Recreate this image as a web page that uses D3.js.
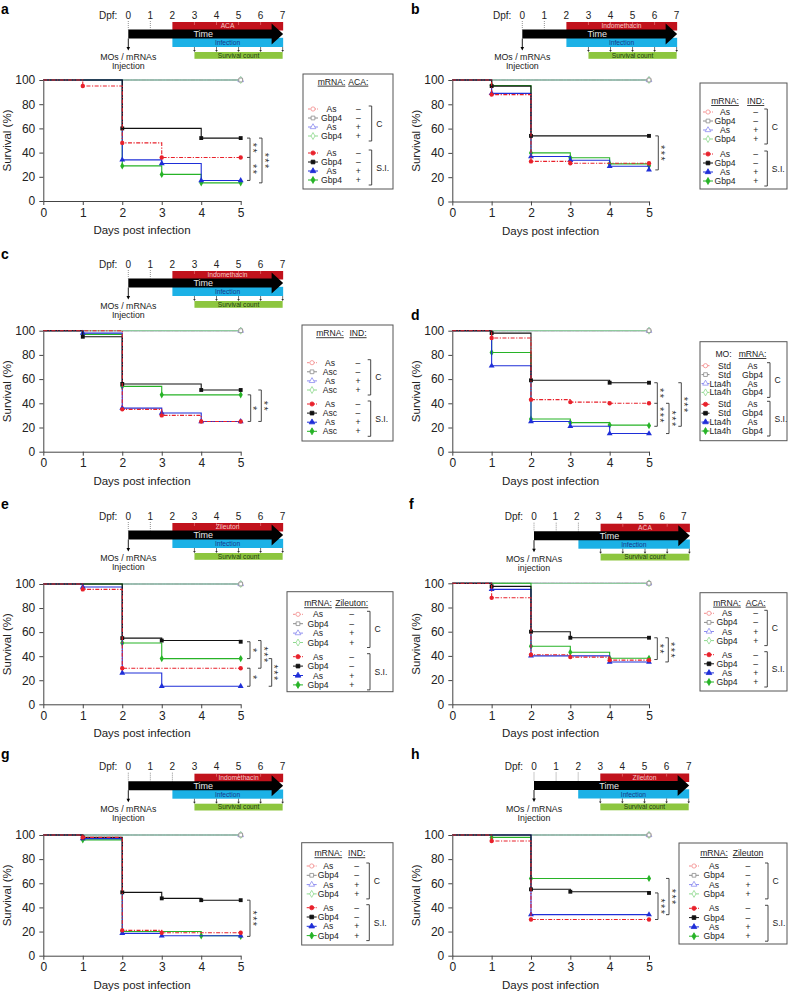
<!DOCTYPE html>
<html><head><meta charset="utf-8">
<script src="https://cdn.jsdelivr.net/npm/d3@7"></script>
<style>body{margin:0;background:#fff}svg{display:block}text{font-family:"Liberation Sans",Arial,sans-serif}</style>
</head><body><svg id="fig" width="788" height="991"></svg>
<script>
// ---------------- data ----------------
const days = [0, 1, 2, 3, 4, 5];
const yTicks = [0, 20, 40, 60, 80, 100];
const dpfDays = [0, 1, 2, 3, 4, 5, 6, 7];
const control = [100, 100, 100, 100, 100, 100];

// S.I. groups per panel, order: red (As/Std-As), black (Gbp4/Asc/Std-Gbp4), blue (+drug / Lta4h-As), green
const siA = [[100,95,48,36,36,36],[100,100,60,60,52,52],[100,100,34,31,17,17],[100,100,29,22,15,15]];
const siB = [[100,88,33,31.5,31.5,31.5],[100,95,54,54,54,54],[100,89,37,34,29,26],[100,95.5,40,36,31,29.5]];
const siC = [[100,100,35,30,25,25],[100,95,56,56,51,51],[100,98,36,32,25,25],[100,97,54,47,47,47]];
const siD = [[100,94,43,41,40,40],[100,98,59,59,57,57],[100,71,25,21,15,15],[100,82,27,24,22,21.5]];
const siE = [[100,95.5,30,30,30,30],[100,100,55,53,53,52],[100,97.5,26,15,15,15],[100,100,51,38,38,38]];
const siF = [[100,88,41,39,36.5,36.5],[100,97.5,60,55,55,55],[100,95,40,40,35,35],[100,100,48,43,38,38]];
const siG = [[100,98,21,19,19,19],[100,98,52.5,47.5,46,46],[100,97,18.5,16.5,16.5,16.5],[100,96,20,20,16.5,16]];
const siH = [[100,95,30,30,30,30],[100,100,55,53,53,52],[100,100,34,34,34,34],[100,98,64,64,64,64]];

// significance: [upper %, lower %, middle % or null, stars (upper), stars (lower)]
const sigA = [[52,17,36,"**","**"],[52,15,null,"***"]];
const sigB = [[54,26,null,"***"]];
const sigC = [[47,25,null,"*"],[51,25,null,"**"]];
const sigD = [[57,21,40,"**","***"],[40,15,null,"***"],[57,21,null,"***"]];
const sigE = [[52,38,null,"*"],[30,15,null,"*"],[53,30,null,"***"],[38,15,null,"***"]];
const sigF = [[55,37,null,"**"],[55,35,null,"***"]];
const sigG = [[46,16,null,"***"]];
const sigH = [[52,30,null,"***"],[64,34,null,"***"]];

const legendMRNA = ["As","Gbp4","As","Gbp4"];
const legendMRNAc = ["As","Asc","As","Asc"];
const legendMO = ["Std","Std","Lta4h","Lta4h"];
const legendSign = ["–","–","+","+"];

// ---------------- styles ----------------
const svg = d3.select("#fig");
const siColors = ["#e8212b","#111111","#1f2fd8","#27b327"];
const ctColors = ["#f28b8b","#8c8c8c","#8d8df0","#8fd98f"];
const shapes = [d3.symbolCircle, d3.symbolSquare, d3.symbolTriangle, d3.symbolDiamond];
const redDash = "4,1.5,1.2,1.5";

const panels = [
 {id:"a", data:siA, sig:sigA, letter:[1,14], chart:{x0:43.3,x1:240.7,yt:80,yb:201},
  tl:{x0:128.3,y:15,k:22.05,labK:22.05,drug:"ACA",start:2,inj:"Injection"},
  leg:{x:303,y:74,w:90,h:115,hy:81.7,c0:109,s0:153,step:9,sym:5,symW:10,col1:28.5,col2:55.3,br:68.7,a1:"middle"},
  heads:["mRNA:","ACA:"], ul:[true,true], col1:legendMRNA, col2:legendSign, sigX:[250,262]},
 {id:"b", data:siB, sig:sigB, letter:[411,14], chart:{x0:452.3,x1:649,yt:80,yb:201.5},
  tl:{x0:522.3,y:15,k:22.05,labK:22.05,drug:"Indomethacin",start:2,inj:"Injection"},
  leg:{x:700,y:83,w:87,h:106,hy:101,c0:112,s0:154,step:9,sym:3,symW:10,col1:25,col2:55.7,br:67.3,a1:"middle"},
  heads:["mRNA:","IND:"], ul:[true,true], col1:legendMRNA, col2:legendSign, sigX:[658.3]},
 {id:"c", data:siC, sig:sigC, letter:[1,258.5], chart:{x0:43.3,x1:240.7,yt:330.7,yb:451.7},
  tl:{x0:128.3,y:264,k:22.05,labK:22.05,drug:"Indomethacin",start:2,inj:"Injection"},
  leg:{x:302,y:325,w:91,h:116,hy:333.3,c0:362.7,s0:404,step:9.1,sym:5,symW:10,col1:28,col2:56,br:68.7,a1:"middle"},
  heads:["mRNA:","IND:"], ul:[true,true], col1:legendMRNAc, col2:legendSign, sigX:[250.7,261.3]},
 {id:"d", data:siD, sig:sigD, letter:[411,320], chart:{x0:452.3,x1:649,yt:330.7,yb:451.7},
  tl:null,
  leg:{x:700,y:341.7,w:87,h:99,hy:354,c0:365.7,s0:404.3,step:8.9,sym:1.5,symW:8,col1:31,col2:52.5,br:70,a1:"end",h1:23.5},
  heads:["MO:","mRNA:"], ul:[false,true], col1:legendMO, col2:legendMRNA, sigX:[657.3,669,681.3]},
 {id:"e", data:siE, sig:sigE, letter:[1,508.5], chart:{x0:43.3,x1:240.7,yt:584,yb:704.3},
  tl:{x0:128.3,y:516,k:22.05,labK:22.05,drug:"Zileuton",start:2,inj:"Injection"},
  leg:{x:287,y:591.7,w:106,h:100,hy:603.3,c0:614.3,s0:656.7,step:9.4,sym:6,symW:10,col1:31,col2:64.7,br:83,a1:"middle"},
  heads:["mRNA:","Zileuton:"], ul:[true,true], col1:legendMRNA, col2:legendSign, sigX:[250,250,261,271.7]},
 {id:"f", data:siF, sig:sigF, letter:[409,508.5], chart:{x0:452.3,x1:649,yt:583.3,yb:704.3},
  tl:{x0:534,y:516.7,k:22.2,labK:21.4,drug:"ACA",start:3,inj:"injection"},
  leg:{x:700,y:592.7,w:87,h:98.3,hy:602.7,c0:613.3,s0:654.7,step:9.1,sym:4,symW:10,col1:27,col2:55.7,br:67.3,a1:"middle"},
  heads:["mRNA:","ACA:"], ul:[true,true], col1:legendMRNA, col2:legendSign, sigX:[657.3,668.3]},
 {id:"g", data:siG, sig:sigG, letter:[1,758.5], chart:{x0:43.3,x1:240.7,yt:835,yb:955.7},
  tl:{x0:128.3,y:766.7,k:22.05,labK:22.05,drug:"Indomethacin",start:3,inj:"Injection"},
  leg:{x:301.7,y:842.7,w:91.3,h:102.3,hy:853.3,c0:866,s0:907.7,step:9.3,sym:5,symW:10,col1:26.6,col2:55,br:67.6,a1:"middle"},
  heads:["mRNA:","IND:"], ul:[true,true], col1:legendMRNA, col2:legendSign, sigX:[250]},
 {id:"h", data:siH, sig:sigH, letter:[411,759], chart:{x0:452.3,x1:649,yt:835,yb:955.7},
  tl:{x0:534,y:766.5,k:22.1,labK:22.1,drug:"Zileuton",start:3,inj:"Injection"},
  leg:{x:679,y:843,w:108,h:101,hy:853,c0:866,s0:908.3,step:9.3,sym:10,symW:10,col1:35,col2:69,br:89,a1:"middle"},
  heads:["mRNA:","Zileuton"], ul:[true,true], col1:legendMRNA, col2:legendSign, sigX:[658,669]}
];

function txt(g, x, y, s, size, anchor, fill){
  return g.append("text").attr("x",x).attr("y",y).attr("font-size",size)
    .attr("text-anchor",anchor||"middle").attr("fill",fill||"#222").text(s);
}

function drawTimeline(t){
  const X = d => t.x0 + d*t.k;
  const XL = d => t.x0 + d*t.labK;
  const g = svg.append("g");
  const y = t.y;
  txt(g, t.x0-11, y+3.6, "Dpf:", 10, "end");
  dpfDays.forEach(d => txt(g, XL(d), y+3.6, d, 10));
  dpfDays.filter(d => d < t.start).forEach(d =>
    g.append("line").attr("x1",X(d)).attr("x2",X(d)).attr("y1",y+6).attr("y2", d>=2 ? y+22.8 : y+14.5)
     .attr("stroke","#777").attr("stroke-width",0.8).attr("stroke-dasharray","1,1"));
  g.append("rect").attr("x",X(t.start)).attr("y",y+7).attr("width",X(7)-X(t.start)+0.5).attr("height",8.5).attr("fill","#c1121c");
  dpfDays.filter(d => d > t.start && d < 7).forEach(d =>
    g.append("line").attr("x1",X(d)).attr("x2",X(d)).attr("y1",y+7).attr("y2",y+10).attr("stroke","#e88").attr("stroke-width",0.6));
  g.append("rect").attr("x",X(2)).attr("y",y+22.8).attr("width",X(7)-X(2)+0.5).attr("height",9.2).attr("fill","#1cb1e6");
  const a = [[X(0),y+14.5],[X(6.5),y+14.5],[X(6.5),y+8.5],[X(7)+0.5,y+19],[X(6.5),y+29.5],[X(6.5),y+23.5],[X(0),y+23.5]];
  g.append("path").attr("d","M"+a.map(p=>p.join(",")).join("L")+"Z").attr("fill","#000");
  txt(g, X(3.4), y+22.3, "Time", 9, "middle", "#e6e6e6");
  txt(g, (X(t.start)+X(7))/2, y+13.1, t.drug, 6.7, "middle", "#f6c9c9");
  txt(g, (X(2)+X(7))/2, y+30.3, "Infection", 6.7, "middle", "#183a8a");
  [3,4,5,6,7].forEach(d => {
    g.append("line").attr("x1",X(d)).attr("x2",X(d)).attr("y1",y+32).attr("y2",y+35.5).attr("stroke","#333").attr("stroke-width",0.7);
    g.append("path").attr("d",`M${X(d)-1.3},${y+35}L${X(d)+1.3},${y+35}L${X(d)},${y+37}Z`).attr("fill","#333");
  });
  g.append("rect").attr("x",X(3)).attr("y",y+37).attr("width",X(7)-X(3)).attr("height",6.8).attr("fill","#8dc63f");
  txt(g, (X(3)+X(7))/2, y+42.7, "Survival count", 6.6, "middle", "#1d3a10");
  g.append("line").attr("x1",X(0)).attr("x2",X(0)).attr("y1",y+23.5).attr("y2",y+33).attr("stroke","#000").attr("stroke-width",0.9);
  g.append("path").attr("d",`M${X(0)-1.8},${y+32}L${X(0)+1.8},${y+32}L${X(0)},${y+35.5}Z`).attr("fill","#000");
  txt(g, X(0), y+45, "MOs / mRNAs", 8.8);
  txt(g, X(0), y+54, t.inj, 8.8);
}

// vertical stack of asterisks as one rotated text run
function drawStars(g, x, cy, s){
  const fs = 11, adv = 0.389*fs, sp = 5.7;
  g.append("text").attr("font-size",fs).attr("fill","#333").attr("text-anchor","middle")
    .attr("letter-spacing", (sp-adv).toFixed(2))
    .attr("transform",`translate(${x - 0.57*fs},${cy + (sp-adv)/2}) rotate(90)`)
    .text(s);
}

function drawLegend(p){
  const L = p.leg;
  const g = svg.append("g");
  g.append("rect").attr("x",L.x).attr("y",L.y).attr("width",L.w).attr("height",L.h)
    .attr("fill","#fff").attr("stroke","#555").attr("stroke-width",1);
  [L.h1 !== undefined ? L.h1 : L.col1, L.col2].forEach((cx,i) => {
    const t = txt(g, L.x+cx, L.hy+3, p.heads[i], 8.6);
    if (p.ul[i]) t.attr("text-decoration","underline");
  });
  for (let i = 0; i < 8; i++){
    const k = i % 4, isSI = i >= 4;
    const ry = (isSI ? L.s0 : L.c0) + k*L.step;
    const col = isSI ? siColors[k] : ctColors[k];
    const sx = L.x + L.sym;
    const ln = g.append("line").attr("x1",sx).attr("x2",sx+L.symW).attr("y1",ry).attr("y2",ry).attr("stroke",col).attr("stroke-width",1);
    if (k === 0) ln.attr("stroke-dasharray","2.5,1,1,1");
    g.append("path").attr("d",d3.symbol(shapes[k], 14)()).attr("transform",`translate(${sx+L.symW/2},${ry})`)
      .attr("fill", isSI ? col : "#fff").attr("stroke",col).attr("stroke-width",0.8);
    txt(g, L.x+L.col1, ry+3, p.col1[k], 8.6, L.a1);
    txt(g, L.x+L.col2, ry+3, p.col2[k], 8.6);
  }
  [[L.c0, "C"],[L.s0, "S.I."]].forEach(([r0, lab]) => {
    const bx = L.x + L.br, t0 = r0 - 3, t1 = r0 + 3*L.step + 5;
    g.append("path").attr("d",`M${bx-3},${t0}H${bx}V${t1}H${bx-3}`).attr("fill","none").attr("stroke","#333").attr("stroke-width",0.9);
    txt(g, bx+4.5, (t0+t1)/2+3, lab, 8.6, "start");
  });
}

function drawPanel(p){
  svg.append("text").attr("x",p.letter[0]).attr("y",p.letter[1]).attr("font-size",14).attr("font-weight","bold").attr("fill","#000").text(p.id);
  if (p.tl) drawTimeline(p.tl);
  const c = p.chart;
  const x = d3.scaleLinear().domain([0,5]).range([c.x0,c.x1]);
  const y = d3.scaleLinear().domain([0,100]).range([c.yb,c.yt]);
  const g = svg.append("g");
  const ax = g.append("g").attr("transform",`translate(0,${c.yb})`)
    .call(d3.axisBottom(x).tickValues(days).tickFormat(d3.format("d")).tickSize(4).tickSizeOuter(0).tickPadding(3));
  const ay = g.append("g").attr("transform",`translate(${c.x0},0)`)
    .call(d3.axisLeft(y).tickValues(yTicks).tickSize(4).tickSizeOuter(0).tickPadding(4));
  [ax, ay].forEach(a => {
    a.selectAll("path,line").attr("stroke","#444").attr("stroke-width",1);
    a.selectAll("text").attr("font-size",12).attr("fill","#222").attr("font-family",'"Liberation Sans",Arial,sans-serif');
  });
  txt(g, (c.x0+c.x1)/2, c.yb+33, "Days post infection", 11.5);
  g.append("text").attr("transform",`translate(${c.x0-32},${(c.yt+c.yb)/2}) rotate(-90)`)
    .attr("text-anchor","middle").attr("font-size",11.5).attr("fill","#222").text("Survival (%)");

  const line = d3.line().x((d,i) => x(days[i])).y(d => y(d)).curve(d3.curveStepAfter);
  [0,1,2,3].forEach(k => {
    const l = g.append("path").attr("d",line(control)).attr("fill","none").attr("stroke",ctColors[k]).attr("stroke-width",1);
    if (k === 0) l.attr("stroke-dasharray",redDash);
  });
  [0,2,3,1].forEach(k => g.append("path").attr("d",d3.symbol(shapes[k],14)())
    .attr("transform",`translate(${x(5)},${y(100)})`).attr("fill","#fff").attr("stroke",ctColors[k]).attr("stroke-width",0.8));
  [3,2,1,0].forEach(k => {
    const s = p.data[k];
    const l = g.append("path").attr("d",line(s)).attr("fill","none").attr("stroke",siColors[k]).attr("stroke-width",1.1);
    if (k === 0) l.attr("stroke-dasharray",redDash);
    s.forEach((v,i) => {
      if (i === 0) return;
      if (v !== s[i-1] || i === s.length-1)
        g.append("path").attr("d",d3.symbol(shapes[k],15)()).attr("transform",`translate(${x(days[i])},${y(v)})`).attr("fill",siColors[k]);
    });
  });
  p.sig.forEach((s,i) => {
    const [hi, lo, mid, s1, s2] = s;
    const bx = p.sigX[i];
    let d = `M${bx-3},${y(hi)}H${bx}V${y(lo)}H${bx-3}`;
    if (mid !== null) d += `M${bx-3},${y(mid)}H${bx}`;
    g.append("path").attr("d",d).attr("fill","none").attr("stroke","#333").attr("stroke-width",0.9);
    if (mid !== null){
      drawStars(g, bx+5, (y(hi)+y(mid))/2, s1);
      drawStars(g, bx+5, (y(mid)+y(lo))/2, s2);
    } else drawStars(g, bx+5, (y(hi)+y(lo))/2, s1);
  });
  drawLegend(p);
}

panels.forEach(drawPanel);
</script></body></html>
